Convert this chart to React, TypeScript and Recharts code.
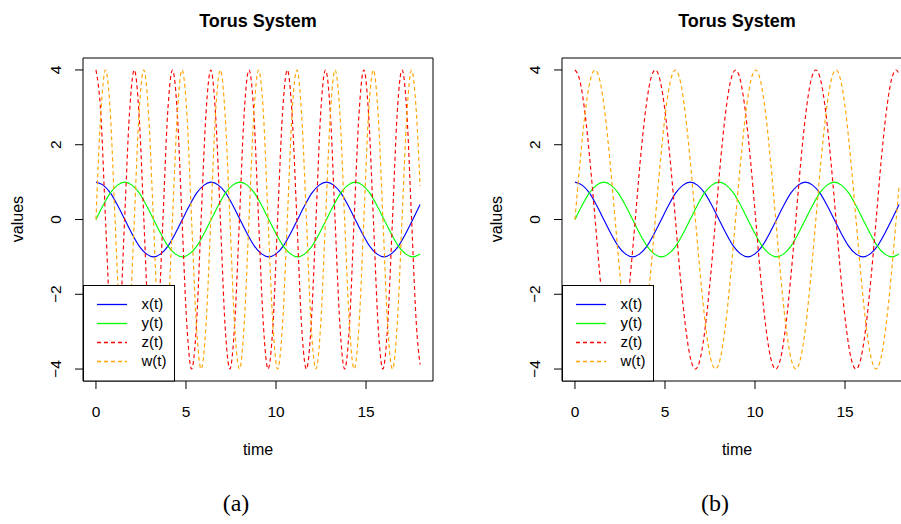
import { LineChart, Line, XAxis, YAxis, ReferenceArea } from "recharts";

const FONT = '"Liberation Sans", Arial, Helvetica, sans-serif';

// x(t), y(t): same in both panels
const xyTime = [
  0, 0.4, 0.8, 1.2, 1.6, 2.0, 2.4, 2.8, 3.2, 3.6, 4.0, 4.4, 4.8, 5.2, 5.6, 6.0,
  6.4, 6.8, 7.2, 7.6, 8.0, 8.4, 8.8, 9.2, 9.6, 10.0, 10.4, 10.8, 11.2, 11.6, 12.0, 12.4,
  12.8, 13.2, 13.6, 14.0, 14.4, 14.8, 15.2, 15.6, 16.0, 16.4, 16.8, 17.2, 17.6, 18.0,
];
const xValues = [
  1, 0.92, 0.71, 0.38, 0, -0.38, -0.71, -0.92, -1, -0.92, -0.71, -0.38, 0, 0.38, 0.71, 0.92,
  1, 0.92, 0.71, 0.38, 0, -0.38, -0.71, -0.92, -1, -0.92, -0.71, -0.38, 0, 0.38, 0.71, 0.92,
  1, 0.92, 0.71, 0.38, 0, -0.38, -0.71, -0.92, -1, -0.92, -0.71, -0.38, 0, 0.4,
];
const yValues = [
  0, 0.38, 0.71, 0.92, 1, 0.92, 0.71, 0.38, 0, -0.38, -0.71, -0.92, -1, -0.92, -0.71, -0.38,
  0, 0.38, 0.71, 0.92, 1, 0.92, 0.71, 0.38, 0, -0.38, -0.71, -0.92, -1, -0.92, -0.71, -0.38,
  0, 0.38, 0.71, 0.92, 1, 0.92, 0.71, 0.38, 0, -0.38, -0.71, -0.92, -1, -0.92,
];

// panel (a): fast z(t), w(t)
const timeA = [
  0, 0.27, 0.53, 0.8, 1.06, 1.33, 1.59, 1.86,
  2.13, 2.39, 2.66, 2.92, 3.19, 3.45, 3.72, 3.98,
  4.25, 4.52, 4.78, 5.05, 5.31, 5.58, 5.84, 6.11,
  6.38, 6.64, 6.91, 7.17, 7.44, 7.7, 7.97, 8.23,
  8.5, 8.77, 9.03, 9.3, 9.56, 9.83, 10.09, 10.36,
  10.63, 10.89, 11.16, 11.42, 11.69, 11.95, 12.22, 12.48,
  12.75, 13.02, 13.28, 13.55, 13.81, 14.08, 14.34, 14.61,
  14.88, 15.14, 15.41, 15.67, 15.94, 16.2, 16.47, 16.73,
  17.0, 17.27, 17.53, 17.8, 18.0,
];
const zValuesA = [
  4, 2.83, 0, -2.83, -4, -2.83, 0, 2.83,
  4, 2.83, 0, -2.83, -4, -2.83, 0, 2.83,
  4, 2.83, 0, -2.83, -4, -2.83, 0, 2.83,
  4, 2.83, 0, -2.83, -4, -2.83, 0, 2.83,
  4, 2.83, 0, -2.83, -4, -2.83, 0, 2.83,
  4, 2.83, 0, -2.83, -4, -2.83, 0, 2.83,
  4, 2.83, 0, -2.83, -4, -2.83, 0, 2.83,
  4, 2.83, 0, -2.83, -4, -2.83, 0, 2.83,
  4, 2.83, 0, -2.83, -3.88,
];
const wValuesA = [
  0, 2.83, 4, 2.83, 0, -2.83, -4, -2.83,
  0, 2.83, 4, 2.83, 0, -2.83, -4, -2.83,
  0, 2.83, 4, 2.83, 0, -2.83, -4, -2.83,
  0, 2.83, 4, 2.83, 0, -2.83, -4, -2.83,
  0, 2.83, 4, 2.83, 0, -2.83, -4, -2.83,
  0, 2.83, 4, 2.83, 0, -2.83, -4, -2.83,
  0, 2.83, 4, 2.83, 0, -2.83, -4, -2.83,
  0, 2.83, 4, 2.83, 0, -2.83, -4, -2.83,
  0, 2.83, 4, 2.83, 0.9,
];

// panel (b): slower z(t), w(t)
const timeB = [
  0, 0.28, 0.56, 0.84, 1.12, 1.39, 1.67, 1.95, 2.23, 2.51, 2.79, 3.07, 3.35, 3.62, 3.9, 4.18,
  4.46, 4.74, 5.02, 5.3, 5.58, 5.85, 6.13, 6.41, 6.69, 6.97, 7.25, 7.53, 7.81, 8.08, 8.36, 8.64,
  8.92, 9.2, 9.48, 9.76, 10.04, 10.31, 10.59, 10.87, 11.15, 11.43, 11.71, 11.99, 12.27, 12.54, 12.82, 13.1,
  13.38, 13.66, 13.94, 14.22, 14.5, 14.77, 15.05, 15.33, 15.61, 15.89, 16.17, 16.45, 16.73, 17.0, 17.28, 17.56,
  17.84, 18.0,
];
const zValuesB = [
  4, 3.7, 2.83, 1.53, 0, -1.53, -2.83, -3.7, -4, -3.7, -2.83, -1.53, 0, 1.53, 2.83, 3.7,
  4, 3.7, 2.83, 1.53, 0, -1.53, -2.83, -3.7, -4, -3.7, -2.83, -1.53, 0, 1.53, 2.83, 3.7,
  4, 3.7, 2.83, 1.53, 0, -1.53, -2.83, -3.7, -4, -3.7, -2.83, -1.53, 0, 1.53, 2.83, 3.7,
  4, 3.7, 2.83, 1.53, 0, -1.53, -2.83, -3.7, -4, -3.7, -2.83, -1.53, 0, 1.53, 2.83, 3.7,
  4, 3.9,
];
const wValuesB = [
  0, 1.53, 2.83, 3.7, 4, 3.7, 2.83, 1.53, 0, -1.53, -2.83, -3.7, -4, -3.7, -2.83, -1.53,
  0, 1.53, 2.83, 3.7, 4, 3.7, 2.83, 1.53, 0, -1.53, -2.83, -3.7, -4, -3.7, -2.83, -1.53,
  0, 1.53, 2.83, 3.7, 4, 3.7, 2.83, 1.53, 0, -1.53, -2.83, -3.7, -4, -3.7, -2.83, -1.53,
  0, 1.53, 2.83, 3.7, 4, 3.7, 2.83, 1.53, 0, -1.53, -2.83, -3.7, -4, -3.7, -2.83, -1.53,
  0, 0.89,
];

const xTicks = [0, 5, 10, 15];
const yTicks = [-4, -2, 0, 2, 4];
const legendNames = ["x(t)", "y(t)", "z(t)", "w(t)"];
const lineColors = ["#0000ff", "#00ff00", "#ff0000", "#ffa500"];
const lineDashes = [undefined, undefined, "4 3", "4 3"];

const X_DOMAIN: [number, number] = [-0.72, 18.72];
const Y_DOMAIN: [number, number] = [-4.32, 4.32];

function XTick(p: any) {
  return (
    <text x={p.x} y={416.5} textAnchor="middle" fontSize={15.5} fontFamily={FONT} fill="#000">
      {p.payload.value}
    </text>
  );
}

function YTick(p: any) {
  const v = p.payload.value;
  const label = v < 0 ? "\u2212" + Math.abs(v) : String(v);
  return (
    <text
      x={61}
      y={p.y}
      transform={`rotate(-90 61 ${p.y})`}
      textAnchor="middle"
      fontSize={15.5}
      fontFamily={FONT}
      fill="#000"
    >
      {label}
    </text>
  );
}

function Panel({
  left,
  caption,
  zwTime,
  zVals,
  wVals,
}: {
  left: number;
  caption: string;
  zwTime: number[];
  zVals: number[];
  wVals: number[];
}) {
  const rows = [
    xyTime.map((t, i) => ({ t, x: xValues[i] })),
    xyTime.map((t, i) => ({ t, y: yValues[i] })),
    zwTime.map((t, i) => ({ t, z: zVals[i] })),
    zwTime.map((t, i) => ({ t, w: wVals[i] })),
  ];
  const keys = ["x", "y", "z", "w"];
  const rowsY = [304.5, 323.5, 342.5, 361.5];

  return (
    <div style={{ position: "absolute", left, top: 0, width: 450, height: 524 }}>
      <LineChart width={450} height={524} margin={{ top: 58, right: 17, bottom: 113, left: 43 }}>
        <XAxis
          type="number"
          dataKey="t"
          domain={X_DOMAIN}
          ticks={xTicks}
          interval={0}
          allowDataOverflow
          axisLine={false}
          tickLine={{ stroke: "#000" }}
          tickSize={8}
          tick={(p: any) => <XTick {...p} />}
          height={30}
        />
        <YAxis
          type="number"
          domain={Y_DOMAIN}
          ticks={yTicks}
          interval={0}
          allowDataOverflow
          axisLine={false}
          tickLine={{ stroke: "#000" }}
          tickSize={8}
          tick={(p: any) => <YTick {...p} />}
          width={40}
        />
        <ReferenceArea
          x1={X_DOMAIN[0]}
          x2={X_DOMAIN[1]}
          y1={Y_DOMAIN[0]}
          y2={Y_DOMAIN[1]}
          fill="none"
          stroke="#000"
          strokeWidth={1}
          ifOverflow="visible"
        />
        {keys.map((k, i) => (
          <Line
            key={k}
            data={rows[i]}
            dataKey={k}
            type="monotone"
            stroke={lineColors[i]}
            strokeWidth={1.15}
            strokeDasharray={lineDashes[i]}
            dot={false}
            activeDot={false}
            isAnimationActive={false}
          />
        ))}
      </LineChart>
      <svg
        width={450}
        height={524}
        style={{ position: "absolute", left: 0, top: 0, pointerEvents: "none" }}
        fontFamily={FONT}
      >
        <text x={258} y={26.5} textAnchor="middle" fontSize={18} fontWeight="bold">
          Torus System
        </text>
        <text x={258} y={455} textAnchor="middle" fontSize={16}>
          time
        </text>
        <text x={23} y={219} transform="rotate(-90 23 219)" textAnchor="middle" fontSize={16}>
          values
        </text>
        <text
          x={236}
          y={511}
          textAnchor="middle"
          fontSize={24}
          fontFamily='"Liberation Serif", "DejaVu Serif", serif'
        >
          {caption}
        </text>
        <rect x={83.5} y={285.5} width={91} height={95.5} fill="#fff" stroke="#000" strokeWidth={1} />
        {legendNames.map((n, i) => (
          <g key={n}>
            <line
              x1={97}
              x2={127}
              y1={rowsY[i]}
              y2={rowsY[i]}
              stroke={lineColors[i]}
              strokeWidth={1.3}
              strokeDasharray={lineDashes[i]}
            />
            <text x={141.5} y={rowsY[i] + 4.5} fontSize={15}>
              {n}
            </text>
          </g>
        ))}
      </svg>
    </div>
  );
}

export default function App() {
  return (
    <div
      style={{
        position: "absolute",
        left: 0,
        top: 0,
        width: 901,
        height: 524,
        overflow: "hidden",
        background: "#fff",
      }}
    >
      <Panel left={0} caption="(a)" zwTime={timeA} zVals={zValuesA} wVals={wValuesA} />
      <Panel left={479} caption="(b)" zwTime={timeB} zVals={zValuesB} wVals={wValuesB} />
    </div>
  );
}
